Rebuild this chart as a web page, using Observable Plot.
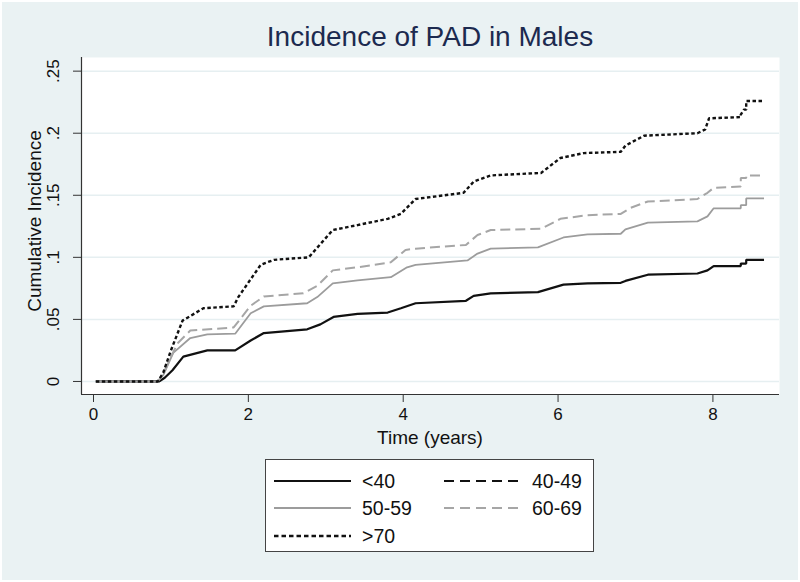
<!DOCTYPE html>
<html><head><meta charset="utf-8">
<script src="https://cdn.jsdelivr.net/npm/d3@7"></script>
<script src="https://cdn.jsdelivr.net/npm/@observablehq/plot@0.6"></script>
<style>
body{margin:0;}
#wrap{position:relative;width:800px;height:582px;background:#eaf2f3;font-family:"Liberation Sans",Arial,sans-serif;overflow:hidden;box-shadow:inset 0 0 0 2px #fff;}
#title{position:absolute;left:0;top:22px;width:860px;text-align:center;font-size:28px;line-height:30px;color:#1c2a4f;}
#chart{position:absolute;left:0;top:0;}
.axt{position:absolute;font-size:19px;line-height:1;color:#111;white-space:nowrap;}
#ylab{left:34px;top:221px;transform:translate(-50%,-50%) rotate(-90deg);}
#xlab{left:430px;top:437px;transform:translate(-50%,-50%);}
#legend{position:absolute;left:265px;top:459px;width:327px;height:91px;background:#fff;border:1px solid #444;}
#legend svg{position:absolute;left:0;top:0;}
</style>
</head><body>
<div id="wrap">
  <div id="title">Incidence of PAD in Males</div>
  <div id="chart"></div>
  <div id="ylab" class="axt">Cumulative Incidence</div>
  <div id="xlab" class="axt">Time (years)</div>
  <div id="legend"></div>
</div>
<script>
// ---- data ----
const xTicks = [0, 2, 4, 6, 8];
const yTicks = [0, 0.05, 0.1, 0.15, 0.2, 0.25];
const seriesNames = ["<40", "40-49", "50-59", "60-69", ">70"];

const t_lt40 = [0.03, 0.85, 0.92, 1.02, 1.16, 1.47, 1.83, 2.03, 2.20, 2.76, 2.93, 3.10, 3.41, 3.80, 3.97, 4.16, 4.81, 4.91, 5.13, 5.74, 6.07, 6.38, 6.81, 6.87, 7.16, 7.80, 7.93, 8.01, 8.36, 8.36, 8.43, 8.43, 8.66];
const v_lt40 = [0, 0, 0.003, 0.009, 0.020, 0.025, 0.025, 0.033, 0.039, 0.042, 0.046, 0.052, 0.0545, 0.0555, 0.059, 0.063, 0.065, 0.069, 0.071, 0.072, 0.078, 0.079, 0.0795, 0.081, 0.086, 0.087, 0.0895, 0.093, 0.093, 0.095, 0.095, 0.098, 0.098];

// the 40-49 curve is listed in the legend but not visible in the plot
const t_40_49 = [];
const v_40_49 = [];

const t_50_59 = [0.03, 0.83, 0.9, 1.03, 1.25, 1.47, 1.83, 2.03, 2.20, 2.76, 2.89, 3.09, 3.41, 3.84, 4.05, 4.16, 4.83, 4.96, 5.13, 5.74, 6.07, 6.38, 6.81, 6.87, 7.16, 7.80, 7.93, 8.01, 8.36, 8.36, 8.43, 8.43, 8.66];
const v_50_59 = [0, 0, 0.005, 0.023, 0.035, 0.038, 0.0385, 0.055, 0.0605, 0.063, 0.068, 0.079, 0.0815, 0.084, 0.092, 0.094, 0.0975, 0.103, 0.107, 0.108, 0.116, 0.1185, 0.119, 0.1225, 0.128, 0.129, 0.133, 0.1395, 0.1395, 0.142, 0.142, 0.1475, 0.1475];

const t_60_69 = [0.03, 0.83, 0.9, 1.0, 1.09, 1.25, 1.81, 2.03, 2.20, 2.71, 2.89, 3.09, 3.41, 3.84, 4.03, 4.16, 4.81, 4.96, 5.13, 5.78, 6.03, 6.38, 6.81, 6.94, 7.16, 7.80, 7.93, 8.01, 8.36, 8.36, 8.43, 8.43, 8.66];
const v_60_69 = [0, 0, 0.006, 0.020, 0.031, 0.041, 0.0435, 0.061, 0.0685, 0.071, 0.077, 0.0895, 0.092, 0.096, 0.106, 0.107, 0.110, 0.118, 0.122, 0.123, 0.131, 0.134, 0.135, 0.140, 0.145, 0.147, 0.152, 0.156, 0.157, 0.164, 0.164, 0.166, 0.166];

const t_gt70 = [0.03, 0.83, 0.9, 1.0, 1.15, 1.42, 1.81, 1.87, 2.16, 2.33, 2.78, 3.09, 3.41, 3.80, 3.97, 4.16, 4.78, 4.91, 5.13, 5.78, 6.03, 6.33, 6.81, 6.87, 7.11, 7.80, 7.90, 7.95, 8.36, 8.36, 8.40, 8.43, 8.43, 8.66];
const v_gt70 = [0, 0, 0.007, 0.025, 0.049, 0.059, 0.0605, 0.068, 0.094, 0.098, 0.100, 0.122, 0.126, 0.131, 0.135, 0.147, 0.152, 0.161, 0.166, 0.168, 0.180, 0.184, 0.185, 0.190, 0.198, 0.200, 0.203, 0.212, 0.213, 0.215, 0.219, 0.219, 0.226, 0.226];

// ---- styles ----
const styles = {
  "<40":   {stroke: "#111111", dash: null,      width: 2.2, legendDash: null},
  "40-49": {stroke: "#111111", dash: "10,6",    width: 2.2, legendDash: "10,6"},
  "50-59": {stroke: "#9c9c9c", dash: null,      width: 1.8, legendDash: null},
  "60-69": {stroke: "#a6a6a6", dash: "10,5",    width: 2.0, legendDash: "10,6"},
  ">70":   {stroke: "#111111", dash: "3.5,2.5", width: 2.4, legendDash: "4.5,3"}
};

const seriesData = {
  "<40":   t_lt40.map((t, i) => ({t, v: v_lt40[i]})),
  "40-49": t_40_49.map((t, i) => ({t, v: v_40_49[i]})),
  "50-59": t_50_59.map((t, i) => ({t, v: v_50_59[i]})),
  "60-69": t_60_69.map((t, i) => ({t, v: v_60_69[i]})),
  ">70":   t_gt70.map((t, i) => ({t, v: v_gt70[i]}))
};

const xDomain = [-0.155, 8.86];
const yDomain = [-0.0105, 0.261];
const fmtY = d => d === 0 ? "0" : String(d).replace(/^0/, "");

const drawOrder = ["<40", "40-49", "50-59", "60-69", ">70"];
const lineMarks = drawOrder.map(name => Plot.line(seriesData[name], {
  x: "t", y: "v",
  stroke: styles[name].stroke,
  strokeWidth: styles[name].width,
  strokeDasharray: styles[name].dash,
  strokeLinejoin: "miter",
  strokeLinecap: "butt"
}));

const chart = Plot.plot({
  width: 800, height: 460,
  marginLeft: 81, marginRight: 21, marginTop: 57, marginBottom: 66,
  style: {background: "transparent", fontFamily: "'Liberation Sans', Arial, sans-serif", color: "#111"},
  x: {domain: xDomain},
  y: {domain: yDomain},
  marks: [
    Plot.frame({fill: "white", stroke: null}),
    Plot.gridY(yTicks, {stroke: "#e6eff1", strokeOpacity: 1, strokeWidth: 1.5}),
    Plot.axisY(yTicks, {tickFormat: fmtY, tickRotate: -90, tickSize: 8, tickPadding: 15, fontSize: 17, label: null, stroke: "#333"}),
    Plot.axisX(xTicks, {tickSize: 8, tickPadding: 5, fontSize: 17, label: null, stroke: "#333"}),
    Plot.ruleX([xDomain[0]], {stroke: "#333", strokeWidth: 1.2}),
    Plot.ruleY([yDomain[0]], {stroke: "#333", strokeWidth: 1.2}),
    ...lineMarks
  ]
});
document.getElementById("chart").appendChild(chart);

// ---- legend ----
const cols = [{lx0: 8, lx1: 85, tx: 96}, {lx0: 178, lx1: 254, tx: 266}];
const rowsY = [21, 48, 76];
const lsvg = d3.select("#legend").append("svg").attr("width", 327).attr("height", 91);
seriesNames.forEach((name, i) => {
  const c = cols[i % 2], ry = rowsY[Math.floor(i / 2)], s = styles[name];
  lsvg.append("line").attr("x1", c.lx0).attr("x2", c.lx1).attr("y1", ry).attr("y2", ry)
    .attr("stroke", s.stroke).attr("stroke-width", s.width)
    .attr("stroke-dasharray", s.legendDash);
  lsvg.append("text").attr("x", c.tx).attr("y", ry).attr("dy", "0.36em")
    .attr("font-size", 19.5).attr("fill", "#111")
    .attr("font-family", "'Liberation Sans', Arial, sans-serif").text(name);
});
</script>
</body></html>
